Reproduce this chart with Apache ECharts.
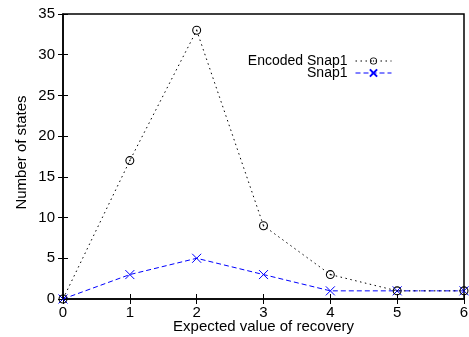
<!DOCTYPE html>
<html>
<head>
<meta charset="utf-8">
<script src="https://cdn.jsdelivr.net/npm/echarts@6/dist/echarts.min.js"></script>
<style>
  html, body { margin: 0; padding: 0; background: #fff; }
  #chart { width: 469px; height: 337px; }
</style>
</head>
<body>
<div id="chart"></div>
<script>
// Expected value of recovery (x) vs number of states (y)
const categories = [0, 1, 2, 3, 4, 5, 6];
const encodedSnap1 = [0, 17, 33, 9, 3, 1, 1];
const snap1 = [0, 3, 5, 3, 1, 1, 1];
const yTicks = [0, 5, 10, 15, 20, 25, 30, 35];

const FONT = '"Liberation Sans", Arial, Helvetica, sans-serif';
// open circle with a centre dot, and an "x" cross
const ringPath = 'path://M0,10A10,10 0 1,1 20,10A10,10 0 1,1 0,10Z' +
  'M2.4,10A7.6,7.6 0 1,0 17.6,10A7.6,7.6 0 1,0 2.4,10Z' +
  'M8.2,10A1.8,1.8 0 1,1 11.8,10A1.8,1.8 0 1,1 8.2,10Z';
const crossPath = 'path://M0,0L10,10M10,0L0,10';

const chart = echarts.init(document.getElementById('chart'), null, { renderer: 'canvas' });

const tickStyle = { show: true, inside: true, length: 5, lineStyle: { color: '#000', width: 1 } };

chart.setOption({
  animation: false,
  backgroundColor: '#fff',
  textStyle: { fontFamily: FONT },
  grid: {
    left: 63, right: 5, top: 14, bottom: 38,
    containLabel: false,
    outerBoundsMode: 'none',
    show: true, borderColor: '#000', borderWidth: 1.5, backgroundColor: 'transparent'
  },
  legend: {
    orient: 'vertical',
    align: 'right',
    right: 77,
    top: 54,
    padding: 0,
    itemGap: -2,
    itemWidth: 36,
    itemHeight: 9,
    lineStyle: { width: 1 },
    textStyle: { fontFamily: FONT, fontSize: 14, color: '#000', padding: [0, 3, 0, 0] },
    data: ['Encoded Snap1', 'Snap1']
  },
  xAxis: [{
    type: 'value',
    min: 0, max: 6, interval: 1,
    name: 'Expected value of recovery',
    nameLocation: 'middle',
    nameGap: 20,
    nameMoveOverlap: false,
    nameTextStyle: { fontFamily: FONT, fontSize: 15, color: '#000' },
    axisLine: { show: true, lineStyle: { color: '#000', width: 1.5 } },
    axisTick: tickStyle,
    axisLabel: { color: '#000', fontSize: 15, fontFamily: FONT, margin: 6,
      formatter: v => String(categories[v]) },
    splitLine: { show: false }
  }, {
    type: 'value', position: 'top',
    min: 0, max: 6, interval: 1,
    axisLine: { show: false },
    axisTick: tickStyle,
    axisLabel: { show: false },
    splitLine: { show: false }
  }],
  yAxis: [{
    type: 'value',
    min: 0, max: 35, interval: 5,
    name: 'Number of states',
    nameLocation: 'middle',
    nameGap: 34,
    nameMoveOverlap: false,
    nameTextStyle: { fontFamily: FONT, fontSize: 15, color: '#000', padding: [0, 0, 0, 8] },
    axisLine: { show: true, lineStyle: { color: '#000', width: 1.5 } },
    axisTick: tickStyle,
    axisLabel: { color: '#000', fontSize: 15, fontFamily: FONT, margin: 8,
      formatter: v => yTicks.includes(v) ? String(v) : '' },
    splitLine: { show: false }
  }, {
    type: 'value', position: 'right',
    min: 0, max: 35, interval: 5,
    axisLine: { show: false },
    axisTick: tickStyle,
    axisLabel: { show: false },
    splitLine: { show: false }
  }],
  series: [{
    name: 'Encoded Snap1',
    type: 'line',
    data: categories.map((x, i) => [x, encodedSnap1[i]]),
    symbol: ringPath,
    symbolSize: 9,
    showAllSymbol: true,
    clip: false,
    lineStyle: { color: '#000', width: 1, type: [1.5, 3.5] },
    itemStyle: { color: '#000' },
    z: 3
  }, {
    name: 'Snap1',
    type: 'line',
    data: categories.map((x, i) => [x, snap1[i]]),
    symbol: crossPath,
    symbolSize: 9,
    showAllSymbol: true,
    clip: false,
    lineStyle: { color: '#0000ff', width: 1, type: [5, 3] },
    itemStyle: { color: 'none', borderColor: '#0000ff', borderWidth: 1 },
    z: 2
  }]
});
</script>
</body>
</html>
